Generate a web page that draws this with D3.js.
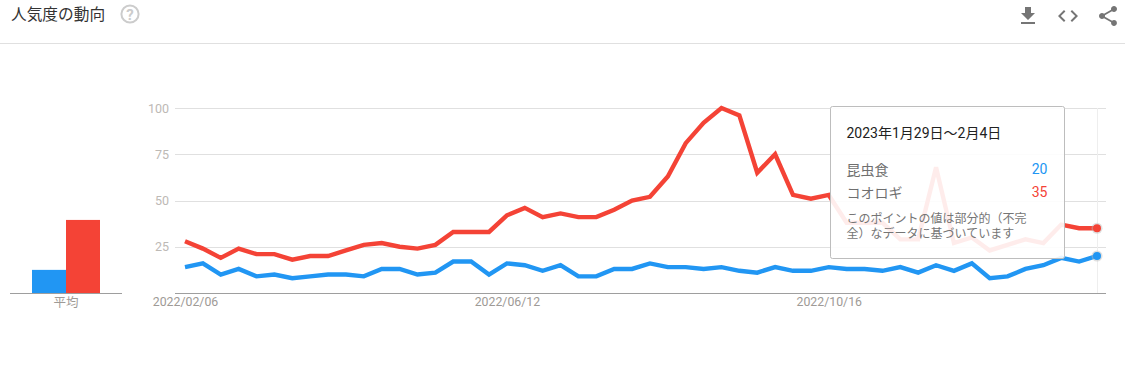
<!DOCTYPE html>
<html lang="ja">
<head>
<meta charset="utf-8">
<title>人気度の動向</title>
<script src="https://cdnjs.cloudflare.com/ajax/libs/d3/7.8.5/d3.min.js"></script>
<style>
  html, body { margin: 0; padding: 0; background: #fff; overflow: hidden; }
  text { font-family: Roboto, "Noto Sans CJK JP", sans-serif; }
  .axis .domain { display: none; }
  .axis line { shape-rendering: crispEdges; }
</style>
</head>
<body>
<div id="chart"></div>
<script>
// ----------------------- data ------------------------
const seriesNames = ["昆虫食", "コオロギ"];
const seriesColors = ["#2196f3", "#f44336"];
const insectFood = [14, 16, 10, 13, 9, 10, 8, 9, 10, 10, 9, 13, 13, 10, 11, 17, 17, 10, 16, 15, 12, 15, 9, 9, 13, 13,
  16, 14, 14, 13, 14, 12, 11, 14, 12, 12, 14, 13, 13, 12, 14, 11, 15, 12, 16, 8, 9, 13, 15, 19, 17, 20];
const cricket = [28, 24, 19, 24, 21, 21, 18, 20, 20, 23, 26, 27, 25, 24, 26, 33, 33, 33, 42, 46, 41, 43, 41, 41, 45, 50,
  52, 63, 81, 92, 100, 96, 65, 75, 53, 51, 53, 38, 38, 38, 29, 29, 68, 27, 30, 23, 26, 29, 27, 37, 35, 35];
const averages = [12.5, 39.5];
const yTicks = [25, 50, 75, 100];
const xTickLabels = ["2022/02/06", "2022/06/12", "2022/10/16"];
const firstWeek = "2022/02/06";
const lastWeek = "2023/01/29";

// ----------------------- constants ------------------------
const width = 1125,
  height = 365,
  baseY = 293,
  topY = 108,
  plotLeft = 175,
  plotRight = 1106;

const parseDate = d3.utcParse("%Y/%m/%d");
const formatDate = d3.utcFormat("%Y/%m/%d");

const svg = d3.select("#chart").append("svg")
  .attr("width", width)
  .attr("height", height)
  .style("display", "block");

// ----------------------- header ------------------------
svg.append("text")
  .attr("x", 11).attr("y", 20)
  .attr("font-size", 15.7)
  .attr("fill", "#333")
  .text("人気度の動向");

svg.append("circle")
  .attr("cx", 130).attr("cy", 14).attr("r", 8.6)
  .attr("fill", "none").attr("stroke", "#ccc").attr("stroke-width", 2);
svg.append("text")
  .attr("x", 130).attr("y", 19.5)
  .attr("text-anchor", "middle")
  .attr("font-size", 15).attr("font-weight", 700)
  .attr("fill", "#ccc")
  .text("?");

svg.append("line")
  .attr("x1", 0).attr("x2", width)
  .attr("y1", 43.5).attr("y2", 43.5)
  .attr("stroke", "#e0e0e0");

// material icons
const icons = [
  { x: 1016, d: "M19 9h-4V3H9v6H5l7 7 7-7zM5 18v2h14v-2H5z" },
  { x: 1056, d: "M9.4 16.6L4.8 12l4.6-4.6L8 6l-6 6 6 6 1.4-1.4zm5.2 0l4.6-4.6-4.6-4.6L16 6l6 6-6 6-1.4-1.4z" },
  { x: 1096, d: "M18 16.08c-.76 0-1.44.3-1.96.77L8.91 12.7c.05-.23.09-.46.09-.7s-.04-.47-.09-.7l7.05-4.11c.54.5 1.25.81 2.04.81 1.66 0 3-1.34 3-3s-1.34-3-3-3-3 1.34-3 3c0 .24.04.47.09.7L8.04 9.81C7.5 9.31 6.79 9 6 9c-1.66 0-3 1.34-3 3s1.34 3 3 3c.79 0 1.5-.31 2.04-.81l7.12 4.16c-.05.21-.08.43-.08.65 0 1.61 1.31 2.92 2.92 2.92 1.61 0 2.92-1.31 2.92-2.92s-1.31-2.92-2.92-2.92z" }
];
svg.selectAll("path.icon")
  .data(icons)
  .join("path")
  .attr("class", "icon")
  .attr("transform", d => `translate(${d.x}, 4)`)
  .attr("d", d => d.d)
  .attr("fill", "#757575");

// ----------------------- scales ------------------------
const xScale = d3.scaleUtc()
  .domain([parseDate(firstWeek), parseDate(lastWeek)])
  .range([185, 1097]);

const yScale = d3.scaleLinear()
  .domain([0, 100])
  .range([baseY, topY]);

const barX = d3.scaleBand()
  .domain(seriesNames)
  .range([32, 100]);

const weeks = d3.utcSunday.range(parseDate(firstWeek), d3.utcDay.offset(parseDate(lastWeek), 1));

// ----------------------- axes ------------------------
const yAxis = svg.append("g")
  .attr("class", "axis")
  .attr("transform", `translate(${plotLeft}, 0)`)
  .call(d3.axisLeft(yScale)
    .tickValues(yTicks)
    .tickSize(-(plotRight - plotLeft))
    .tickPadding(6));
yAxis.selectAll("line").attr("stroke", "#e0e0e0");
yAxis.selectAll("text")
  .attr("font-size", 12.5)
  .attr("fill", "#bdb9b5")
  .style("font-family", "Roboto, sans-serif");

const xAxis = svg.append("g")
  .attr("class", "axis")
  .attr("transform", `translate(0, ${baseY})`)
  .call(d3.axisBottom(xScale)
    .tickValues(xTickLabels.map(parseDate))
    .tickFormat(formatDate)
    .tickSize(0)
    .tickPadding(4));
xAxis.selectAll("text")
  .attr("font-size", 12.3)
  .attr("fill", "#9e9a96")
  .style("font-family", "Roboto, sans-serif");

// hover guide line
svg.append("line")
  .attr("x1", xScale(parseDate(lastWeek)) + 0.5)
  .attr("x2", xScale(parseDate(lastWeek)) + 0.5)
  .attr("y1", topY).attr("y2", baseY)
  .attr("stroke", "#eeeeee");

// ----------------------- lines ------------------------
const line = d3.line()
  .x((d, i) => xScale(weeks[i]))
  .y(d => yScale(d));

svg.selectAll("path.trend")
  .data([insectFood, cricket])
  .join("path")
  .attr("class", "trend")
  .attr("d", line)
  .attr("fill", "none")
  .attr("stroke", (d, i) => seriesColors[i])
  .attr("stroke-width", 4.4)
  .attr("stroke-linejoin", "miter");

svg.selectAll("circle.halo")
  .data([insectFood, cricket])
  .join("circle")
  .attr("class", "halo")
  .attr("cx", xScale(parseDate(lastWeek)))
  .attr("cy", d => yScale(d[d.length - 1]))
  .attr("r", 5.5)
  .attr("fill", "#bbb")
  .attr("opacity", 0.45);

svg.selectAll("circle.dot")
  .data([insectFood, cricket])
  .join("circle")
  .attr("class", "dot")
  .attr("cx", xScale(parseDate(lastWeek)))
  .attr("cy", d => yScale(d[d.length - 1]))
  .attr("r", 4)
  .attr("fill", (d, i) => seriesColors[i]);

// ----------------------- average bars ------------------------
svg.selectAll("rect.avg")
  .data(averages)
  .join("rect")
  .attr("class", "avg")
  .attr("x", (d, i) => barX(seriesNames[i]))
  .attr("width", barX.bandwidth())
  .attr("y", d => yScale(d))
  .attr("height", d => baseY - yScale(d))
  .attr("fill", (d, i) => seriesColors[i]);

svg.append("text")
  .attr("x", 66).attr("y", 307)
  .attr("text-anchor", "middle")
  .attr("font-size", 12.5)
  .attr("fill", "#9e9a96")
  .text("平均");

// ----------------------- baselines ------------------------
[[10, 122], [plotLeft, plotRight]].forEach(([x1, x2]) => {
  svg.append("line")
    .attr("x1", x1).attr("x2", x2)
    .attr("y1", baseY + 0.5).attr("y2", baseY + 0.5)
    .attr("stroke", "#9e9e9e");
});

// ----------------------- tooltip ------------------------
const tip = svg.append("g").attr("transform", "translate(830.5, 106.5)");

tip.append("rect")
  .attr("width", 234).attr("height", 152).attr("rx", 2)
  .attr("fill", "#fff").attr("fill-opacity", 0.9)
  .attr("stroke", "#bdbdbd");

tip.append("text")
  .attr("x", 16).attr("y", 31)
  .attr("font-size", 14)
  .attr("fill", "#212121")
  .text("2023年1月29日～2月4日");

const rowY = [68, 91];
seriesNames.forEach((name, i) => {
  tip.append("text")
    .attr("x", 16).attr("y", rowY[i])
    .attr("font-size", 14)
    .attr("fill", "#6f6f6f")
    .text(name);
  tip.append("text")
    .attr("x", 217).attr("y", rowY[i] - 1)
    .attr("text-anchor", "end")
    .attr("font-size", 14)
    .attr("fill", seriesColors[i])
    .text([insectFood, cricket][i][51]);
});

tip.selectAll("text.note")
  .data(["このポイントの値は部分的（不完", "全）なデータに基づいています"])
  .join("text")
  .attr("class", "note")
  .attr("x", 16)
  .attr("y", (d, i) => 116 + i * 15.5)
  .attr("font-size", 12)
  .attr("fill", "#757575")
  .text(d => d);
</script>
</body>
</html>
